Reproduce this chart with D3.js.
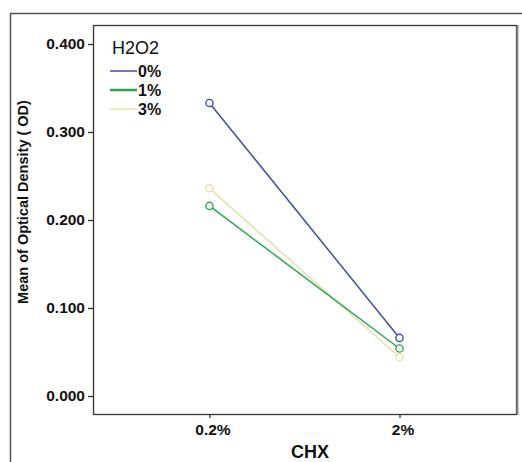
<!DOCTYPE html>
<html>
<head>
<meta charset="utf-8">
<script src="https://cdn.jsdelivr.net/npm/d3@7"></script>
<style>
  body { margin: 0; background: #fff; }
  svg { display: block; font-family: "Liberation Sans", Arial, sans-serif; }
</style>
</head>
<body>
<svg id="chart"></svg>
<script>
// data
const chxLevels = ["0.2%", "2%"];
const h2o2Levels = ["0%", "1%", "3%"];
const od0 = [0.333, 0.066];
const od1 = [0.216, 0.054];
const od3 = [0.236, 0.044];
const yTicks = [0, 0.1, 0.2, 0.3, 0.4];

const series = [
  { name: h2o2Levels[0], values: od0, color: "#3f4f9d" },
  { name: h2o2Levels[1], values: od1, color: "#27a84c" },
  { name: h2o2Levels[2], values: od3, color: "#dfe4a6" }
];

const width = 522, height = 462;
const plot = { left: 93, top: 25, right: 516, bottom: 414 };

const svg = d3.select("#chart")
  .attr("width", width)
  .attr("height", height);

// outer frame (runs off the right and bottom)
svg.append("path")
  .attr("d", `M10.5,${height + 5} V13.5 H${width + 5}`)
  .attr("fill", "none")
  .attr("stroke", "#555")
  .attr("stroke-width", 1.5);

const x = d3.scalePoint()
  .domain(chxLevels)
  .range([plot.left, plot.right])
  .padding(0.613);

const y = d3.scaleLinear()
  .domain([0, 0.4])
  .range([396, 44]);

// plot frame
svg.append("rect")
  .attr("x", plot.left + 0.5)
  .attr("y", plot.top + 0.5)
  .attr("width", plot.right - plot.left)
  .attr("height", plot.bottom - plot.top)
  .attr("fill", "#fff")
  .attr("stroke", "#333")
  .attr("stroke-width", 1.3);
svg.append("line")
  .attr("x1", plot.right + 1.5).attr("x2", plot.right + 1.5)
  .attr("y1", plot.top).attr("y2", plot.bottom + 1)
  .attr("stroke", "#8a8f94")
  .attr("stroke-width", 2);

const tickFont = 15.5;

// y axis
const yAxis = d3.axisLeft(y)
  .tickValues(yTicks)
  .tickFormat(d3.format(".3f"))
  .tickSize(5)
  .tickPadding(3);
const gy = svg.append("g")
  .attr("transform", `translate(${plot.left},0)`)
  .call(yAxis);
gy.select(".domain").remove();
gy.selectAll("text")
  .style("font-size", tickFont + "px")
  .style("font-weight", "bold")
  .style("font-family", "Liberation Sans, Arial, sans-serif")
  .attr("fill", "#111");
gy.selectAll("line").attr("stroke", "#333").attr("stroke-width", 1.3);

// x axis
const xAxis = d3.axisBottom(x)
  .tickSize(4)
  .tickPadding(6);
const gx = svg.append("g")
  .attr("transform", `translate(0,${plot.bottom})`)
  .call(xAxis);
gx.select(".domain").remove();
gx.selectAll("text")
  .style("font-size", tickFont + "px")
  .style("font-weight", "bold")
  .style("font-family", "Liberation Sans, Arial, sans-serif")
  .attr("fill", "#111")
  .attr("dx", 3);
gx.selectAll("line").attr("stroke", "#333").attr("stroke-width", 1.3);

// axis titles
svg.append("text")
  .attr("x", 310)
  .attr("y", 458)
  .attr("text-anchor", "middle")
  .style("font-size", "18px")
  .style("font-weight", "bold")
  .attr("fill", "#111")
  .text("CHX");

svg.append("text")
  .attr("transform", "translate(28,202) rotate(-90)")
  .attr("text-anchor", "middle")
  .style("font-size", "14.5px")
  .style("font-weight", "bold")
  .attr("fill", "#111")
  .text("Mean of Optical Density ( OD)");

// lines and markers
const line = d3.line()
  .x((d, i) => x(chxLevels[i]))
  .y(d => y(d));

const g = svg.append("g");
series.slice().reverse().forEach(s => {
  g.append("path")
    .datum(s.values)
    .attr("d", line)
    .attr("fill", "none")
    .attr("stroke", s.color)
    .attr("stroke-width", 1.5);
  g.selectAll(null)
    .data(s.values)
    .enter()
    .append("circle")
    .attr("cx", (d, i) => x(chxLevels[i]))
    .attr("cy", d => y(d))
    .attr("r", 3.6)
    .attr("fill", "#fff")
    .attr("stroke", s.color)
    .attr("stroke-width", 1.4);
});

// legend
const legend = svg.append("g");
legend.append("text")
  .attr("x", 112)
  .attr("y", 54)
  .style("font-size", "18px")
  .attr("fill", "#111")
  .text("H2O2");
const rows = legend.selectAll("g.row")
  .data(series)
  .enter()
  .append("g")
  .attr("class", "row")
  .attr("transform", (d, i) => `translate(110,${71 + i * 19})`);
rows.append("line")
  .attr("x1", 0).attr("x2", 27)
  .attr("stroke", d => d.color)
  .attr("stroke-width", (d, i) => i === 1 ? 2.5 : 1.5);
rows.append("text")
  .attr("x", 28)
  .attr("y", 6)
  .style("font-size", "16px")
  .style("font-weight", "bold")
  .attr("fill", "#111")
  .text(d => d.name);
</script>
</body>
</html>
